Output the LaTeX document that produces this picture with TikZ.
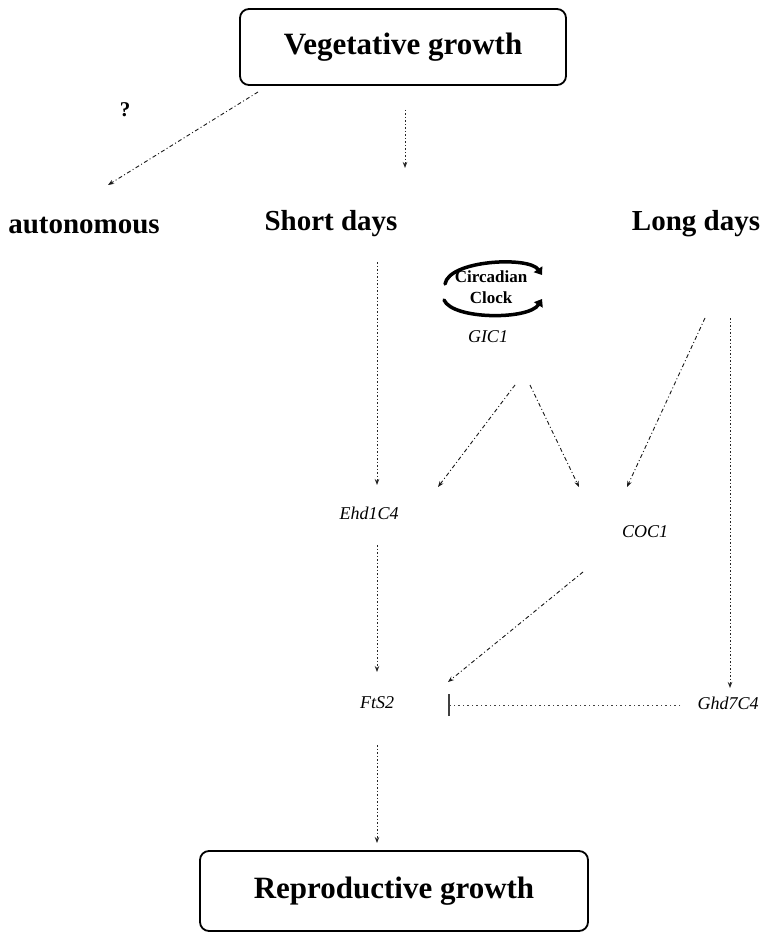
\documentclass[tikz,border=0pt]{standalone}
\usepackage{fontspec}
\setmainfont{Liberation Serif}
\usetikzlibrary{arrows.meta,calc}
\begin{document}
\begin{tikzpicture}[x=1pt,y=-1pt,
  bigbox/.style={draw,rounded corners=9pt,line width=1.8pt,inner sep=0pt},
  bigtext/.style={font=\fontsize{31}{34}\selectfont\bfseries},
  headtext/.style={font=\fontsize{29}{32}\selectfont\bfseries,inner sep=0pt},
  gene/.style={font=\fontsize{18}{21}\selectfont\itshape,inner sep=0pt},
  dashedarrow/.style={line width=0.9pt,black!90,dash pattern=on 4pt off 2.5pt on 1pt off 2.5pt,-{Stealth[length=6pt,width=4.5pt]}},
  dottedarrow/.style={line width=0.9pt,black!85,dash pattern=on 1.5pt off 2pt,-{Stealth[length=6pt,width=4.5pt]}},
  inhibit/.style={line width=0.9pt,black!75,dash pattern=on 1.5pt off 3pt,-{Bar[width=22pt,line width=1.5pt]}},
  clockarc/.style={line width=3.5pt,line cap=round,-{Triangle[length=7pt,width=10pt]}}
]
\useasboundingbox (0,0) rectangle (777,933);

% boxes
\node[bigbox,minimum width=326pt,minimum height=76pt,bigtext] (veg) at (403,47) {Vegetative growth};
\node[bigbox,minimum width=388pt,minimum height=80pt,bigtext] (rep) at (394,891) {Reproductive growth};

% headings
\node[font=\fontsize{21}{24}\selectfont\bfseries] (q) at (125,110) {?};
\node[headtext] (auto) at (84,226) {autonomous};
\node[headtext] (sd) at (331,224) {Short days};
\node[headtext] (ld) at (696,224) {Long days};

% clock
\node[font=\fontsize{17}{21}\selectfont\bfseries,align=center,inner sep=0pt] (clk) at (491,287) {Circadian\\Clock};
\draw[clockarc] ($(clk)+(-46,-3)$) .. controls ($(clk)+(-42,-27)$) and ($(clk)+(38,-31)$) .. ($(clk)+(51,-12)$);
\draw[clockarc] ($(clk)+(-47,13)$) .. controls ($(clk)+(-38,33)$) and ($(clk)+(38,33)$) .. ($(clk)+(51,12)$);

% genes
\node[gene] (gic) at (488,337) {GIC1};
\node[gene] (ehd) at (369,513) {Ehd1C4};
\node[gene] (coc) at (645,532) {COC1};
\node[gene] (fts) at (377,703) {FtS2};
\node[gene] (ghd) at (728,703) {Ghd7C4};

% connectors
\draw[dashedarrow] ($(veg)+(-145,45)$) -- ($(auto)+(24,-41)$);
\draw[dottedarrow] ($(veg)+(2,63)$) -- ($(sd)+(74,-56)$);
\draw[dottedarrow] ($(sd)+(46,38)$) -- ($(ehd)+(8,-28)$);
\draw[dashedarrow] ($(gic)+(27,48)$) -- ($(ehd)+(69,-26)$);
\draw[dashedarrow] ($(gic)+(42,48)$) -- ($(coc)+(-66,-45)$);
\draw[dashedarrow] ($(ld)+(9,94)$) -- ($(coc)+(-18,-45)$);
\draw[dottedarrow] ($(ld)+(34,94)$) -- ($(ghd)+(2,-15)$);
\draw[dottedarrow] ($(ehd)+(8,32)$) -- ($(fts)+(0,-31)$);
\draw[dashedarrow] ($(coc)+(-62,40)$) -- ($(fts)+(71,-21)$);
\draw[inhibit] ($(ghd)+(-48,2)$) -- ($(fts)+(71,2)$);
\draw[dottedarrow] ($(fts)+(0,42)$) -- ($(rep)+(-17,-48)$);
\end{tikzpicture}
\end{document}
